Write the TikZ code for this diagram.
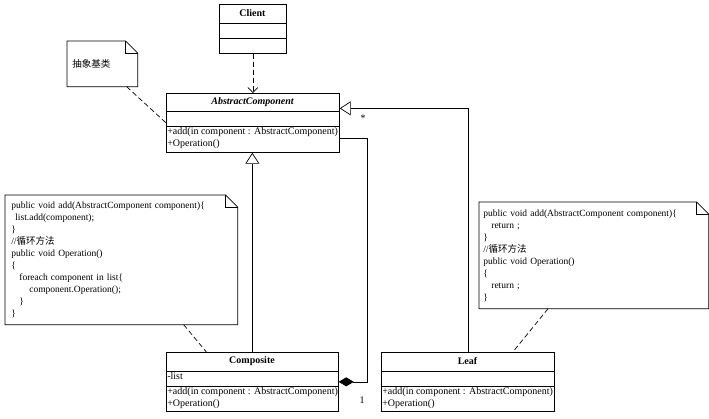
\documentclass[tikz,border=0pt]{standalone}
\usepackage{fontspec}
\setmainfont{Liberation Serif}
\newfontfamily\cjk{Noto Sans CJK SC}
\usetikzlibrary{arrows.meta}

\newcommand\foldnote[1]{%
  \draw (#1.north west) -- ([xshift=-12pt]#1.north east) -- ([yshift=-12pt]#1.north east)
    -- (#1.south east) -- (#1.south west) -- cycle;
  \draw ([xshift=-12pt]#1.north east) |- ([yshift=-12pt]#1.north east);}

\begin{document}
\begin{tikzpicture}[x=1pt,y=-1pt,line width=0.7pt,
    every node/.style={font=\fontsize{10}{12}\selectfont},
    box/.style={draw,anchor=north west,inner sep=0pt},
    cname/.style={font=\fontsize{10}{12}\selectfont\bfseries},
    member/.style={anchor=north west,align=left,inner sep=1pt},
    note/.style={anchor=north west,align=left,inner xsep=5pt,inner ysep=0pt,
      font=\fontsize{9.5}{12}\selectfont},
    inherit/.style={-{Triangle[open,length=11pt,width=14pt]}},
    depend/.style={dash pattern=on 5pt off 3pt,-{Straight Barb[length=5pt,width=10pt]}},
    attach/.style={dash pattern=on 5pt off 3pt}]
  \useasboundingbox (0,0) rectangle (709,418);

  % classes
  \node[box,minimum width=67pt,minimum height=49pt] (client) at (219,4) {};
  \draw ([yshift=-19pt]client.north west) -- ([yshift=-19pt]client.north east);
  \draw ([yshift=-34pt]client.north west) -- ([yshift=-34pt]client.north east);
  \node[cname] (clientname) at (252.5,13.5) {Client};

  \node[box,minimum width=173pt,minimum height=59pt] (abs) at (166,93) {};
  \draw ([yshift=-18pt]abs.north west) -- ([yshift=-18pt]abs.north east);
  \draw ([yshift=-33pt]abs.north west) -- ([yshift=-33pt]abs.north east);
  \node[cname,font=\fontsize{10}{12}\selectfont\bfseries\itshape] (absname) at (252.5,102) {AbstractComponent};
  \node[member] (absops) at (166,126) {+add(in component : AbstractComponent)\\+Operation()};

  \node[box,minimum width=172pt,minimum height=59pt] (comp) at (166,352) {};
  \draw ([yshift=-19pt]comp.north west) -- ([yshift=-19pt]comp.north east);
  \draw ([yshift=-34pt]comp.north west) -- ([yshift=-34pt]comp.north east);
  \node[cname] (compname) at (252,361.5) {Composite};
  \node[member] (compattr) at (166,371) {-list};
  \node[member] (compops) at (166,386) {+add(in component : AbstractComponent)\\+Operation()};

  \node[box,minimum width=173pt,minimum height=59pt] (leaf) at (381,352) {};
  \draw ([yshift=-19pt]leaf.north west) -- ([yshift=-19pt]leaf.north east);
  \draw ([yshift=-34pt]leaf.north west) -- ([yshift=-34pt]leaf.north east);
  \node[cname] (leafname) at (467.5,361.5) {Leaf};
  \node[member] (leafops) at (381,386) {+add(in component : AbstractComponent)\\+Operation()};

  % notes
  \node[note,minimum width=70pt,minimum height=45pt,text width=60pt] (basenote) at (67,41) {\cjk 抽象基类};
  \foldnote{basenote}
  \node[note,inner xsep=6pt,minimum width=232pt,minimum height=129pt,text width=220pt] (compnote) at (5,195) {%
    public void add(AbstractComponent component)\{\\
    \hspace*{4pt}list.add(component);\\
    \}\\
    //{\cjk 循环方法}\\
    public void Operation()\\
    \{\\
    \hspace*{8pt}foreach component in list\{\\
    \hspace*{18pt}component.Operation();\\
    \hspace*{8pt}\}\\
    \}};
  \foldnote{compnote}
  \node[note,inner xsep=4pt,minimum width=229pt,minimum height=106pt,text width=221pt] (leafnote) at (479,202) {%
    public void add(AbstractComponent component)\{\\
    \hspace*{8pt}return ;\\
    \}\\
    //{\cjk 循环方法}\\
    public void Operation()\\
    \{\\
    \hspace*{8pt}return ;\\
    \}};
  \foldnote{leafnote}

  % connectors
  \draw[depend] (client) -- (abs);
  \draw[attach] ([xshift=-11pt]basenote.south east) -- (abs.west);
  \draw[inherit] (comp.north) -- (comp.north |- abs.south);
  \draw[inherit] (leaf.north) |- ([yshift=14.5pt]abs.east);
  \draw[-{Diamond[length=15pt,width=9pt]}] ([yshift=-15.5pt]abs.east) -- ++(28,0) |- (comp.east);
  \node (many) at (363,118) {*};
  \node (one) at (362,400) {1};
  \draw[attach] ([xshift=-54pt]compnote.south east) -- ([xshift=-46pt]comp.north);
  \draw[attach] ([xshift=69pt]leafnote.south west) -- ([xshift=45pt]leaf.north);
\end{tikzpicture}
\end{document}
